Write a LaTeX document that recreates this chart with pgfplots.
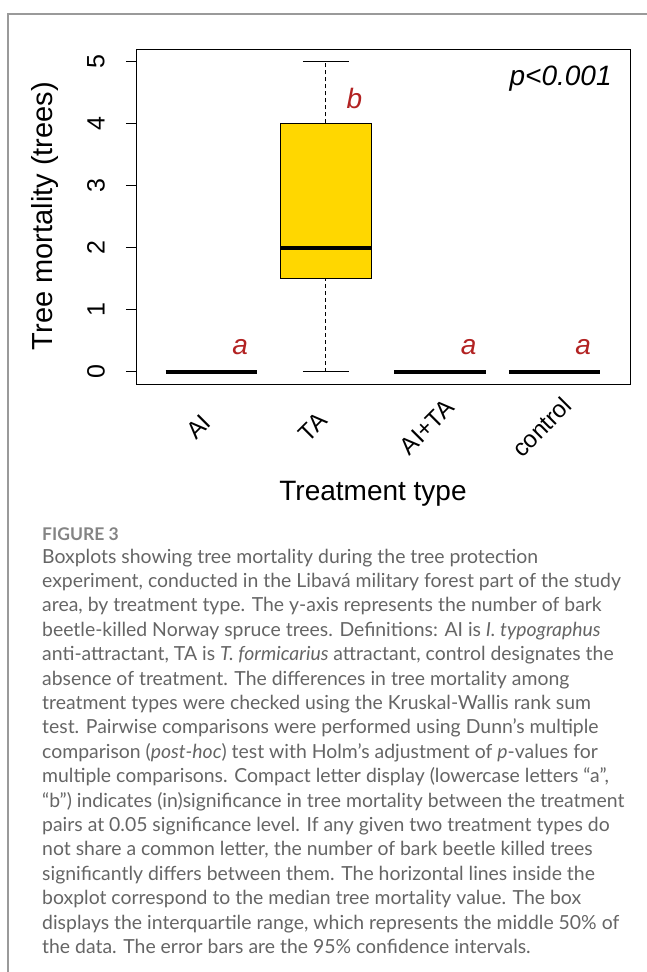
\documentclass[border=0pt]{standalone}
\usepackage{pgfplots}
\pgfplotsset{compat=1.18}
\usepackage{fontspec}
\setmainfont{Liberation Sans}
\newfontfamily\capfont{Lato}
\definecolor{boxgold}{HTML}{FFD700}
\definecolor{letred}{HTML}{B22222}
\definecolor{framegray}{HTML}{9A9A9A}
\definecolor{capgray}{HTML}{656565}
\begin{document}
\begin{tikzpicture}[x=1pt,y=1pt]
\useasboundingbox (0,0) rectangle (646,-972);
\draw[framegray, line width=1.5pt] (8,-1000) -- (8,-14) -- (700,-14);
\begin{axis}[at={(136pt,-384pt)}, anchor=south west, scale only axis,
 width=494pt, height=335pt,
 xmin=0.34, xmax=4.66, ymin=-0.2, ymax=5.2,
 axis line style={line width=1pt},
 xtick={1,2,3,4}, xticklabels={AI,TA,AI+TA,control},
 ytick={0,1,2,3,4,5},
 tick align=outside, ytick pos=left, xtick pos=bottom,
 major tick length=10pt,
 x tick style={draw=none},
 y tick style={line width=0.8pt, black},
 yticklabel style={xshift=-30pt, rotate=90, anchor=center, font=\fontsize{25}{25}\selectfont},
 xticklabel style={xshift=-13pt, yshift=-33pt, rotate=45, anchor=center, font=\fontsize{24}{24}\selectfont},
 /pgf/number format/assume math mode=true,
 clip=false,
]
% zero-valued groups (AI, AI+TA, control): median lines at 0
\addplot[black, line width=4pt] coordinates {(0.6,0) (1.4,0)};
\addplot[black, line width=4pt] coordinates {(2.6,0) (3.4,0)};
\addplot[black, line width=4pt] coordinates {(3.6,0) (4.4,0)};
% TA: whiskers
\addplot[black, line width=0.8pt, dash pattern=on 4pt off 3pt] coordinates {(2,4) (2,5)};
\addplot[black, line width=0.8pt, dash pattern=on 4pt off 3pt] coordinates {(2,0) (2,1.5)};
\addplot[black, line width=0.8pt] coordinates {(1.8,5) (2.2,5)};
\addplot[black, line width=0.8pt] coordinates {(1.8,0) (2.2,0)};
% TA box
\addplot[fill=boxgold, draw=black, line width=0.8pt] coordinates {(1.6,1.5) (2.4,1.5) (2.4,4) (1.6,4)} -- cycle;
\addplot[black, line width=4pt] coordinates {(1.6,2) (2.4,2)};
% letters
\node[letred, font=\fontsize{28}{28}\selectfont\itshape] at (axis cs:1.25,0.4) {a};
\node[letred, font=\fontsize{28}{28}\selectfont\itshape] at (axis cs:2.25,4.4) {b};
\node[letred, font=\fontsize{28}{28}\selectfont\itshape] at (axis cs:3.25,0.4) {a};
\node[letred, font=\fontsize{28}{28}\selectfont\itshape] at (axis cs:4.25,0.4) {a};
\node[anchor=east, font=\fontsize{28}{28}\selectfont\itshape] at (axis cs:4.53,4.73) {p<0.001};
\end{axis}
\node[rotate=90, font=\fontsize{29}{29}\selectfont] at (45,-216) {Tree mortality (trees)};
\node[anchor=base, font=\fontsize{28}{28}\selectfont] at (373,-500) {Treatment type};
% caption
\node[anchor=base west, inner sep=0, text=capgray!80!white, font=\capfont\bfseries\fontsize{17.5}{17.5}\selectfont] at (42,-540) {FIGURE 3};
\begin{scope}[every node/.style={anchor=base west, inner sep=0, text=capgray, font=\capfont\fontsize{19.4}{19.4}\selectfont}]
\node at (42,-563.0) {Boxplots showing tree mortality during the tree protection};
\node at (42,-587.4) {experiment, conducted in the Libavá military forest part of the study};
\node at (42,-611.8) {area, by treatment type. The y-axis represents the number of bark};
\node at (42,-636.2) {beetle-killed Norway spruce trees. Definitions: AI is \textit{I. typographus}};
\node at (42,-660.6) {anti-attractant, TA is \textit{T. formicarius} attractant, control designates the};
\node at (42,-685.0) {absence of treatment. The differences in tree mortality among};
\node at (42,-709.4) {treatment types were checked using the Kruskal-Wallis rank sum};
\node at (42,-733.8) {test. Pairwise comparisons were performed using Dunn’s multiple};
\node at (42,-758.2) {comparison (\textit{post-hoc}) test with Holm’s adjustment of \textit{p}-values for};
\node at (42,-782.6) {multiple comparisons. Compact letter display (lowercase letters “a”,};
\node at (42,-807.0) {“b”) indicates (in)significance in tree mortality between the treatment};
\node at (42,-831.4) {pairs at 0.05 significance level. If any given two treatment types do};
\node at (42,-855.8) {not share a common letter, the number of bark beetle killed trees};
\node at (42,-880.2) {significantly differs between them. The horizontal lines inside the};
\node at (42,-904.6) {boxplot correspond to the median tree mortality value. The box};
\node at (42,-929.0) {displays the interquartile range, which represents the middle 50\% of};
\node at (42,-953.4) {the data. The error bars are the 95\% confidence intervals.};
\end{scope}
\end{tikzpicture}
\end{document}
